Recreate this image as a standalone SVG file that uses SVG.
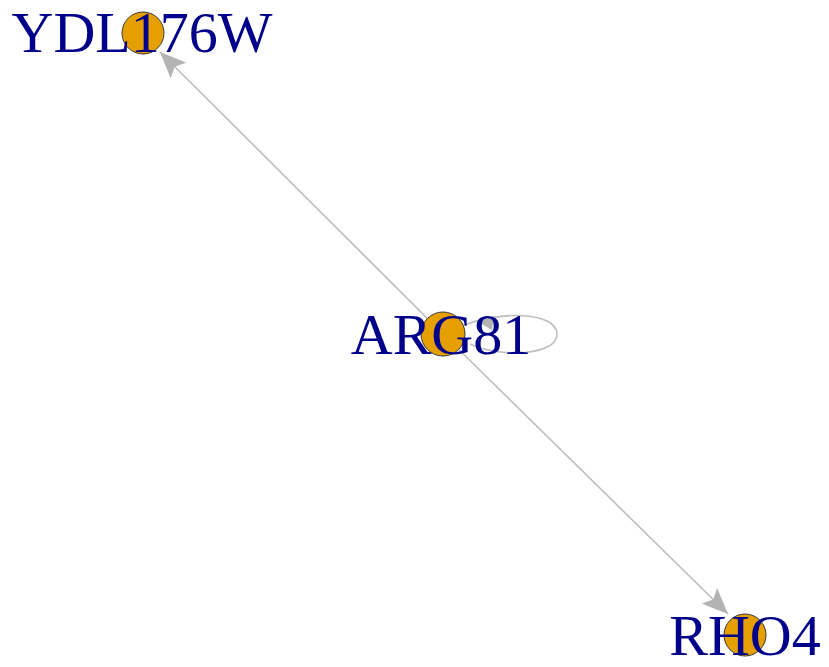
<svg xmlns="http://www.w3.org/2000/svg" width="829" height="667" viewBox="0 0 829 667">
<defs>
<marker id="arrBig" viewBox="0 0 10 10" refX="10" refY="5" markerWidth="26" markerHeight="22" markerUnits="userSpaceOnUse" orient="auto" preserveAspectRatio="none">
<path d="M0,0 L10,5 L0,10 L2,5 Z" fill="#b3b3b3"/>
</marker>
<style>
.edge{stroke:#bdbdbd;stroke-width:1.6;fill:none}
.node circle{fill:#e69f00;stroke:#3a3a3a;stroke-width:1}
.node text{font-family:"Liberation Serif","Times New Roman",serif;font-size:58px;fill:#00008b;text-anchor:middle}
</style>
</defs>
<rect width="829" height="667" fill="#ffffff"/>
<g id="connectors">
<line class="edge" x1="443" y1="334" x2="160" y2="52" marker-end="url(#arrBig)"/>
<line class="edge" x1="443" y1="334" x2="728" y2="614" marker-end="url(#arrBig)"/>
<path class="edge" d="M462,326 C500,310 557,312 557,334 C557,356 500,358 470,344"/>
<path d="M478,322 L494,316 L492,330 Z" fill="#b3b3b3"/>
</g>
<g id="node-YDL176W" class="node">
<circle cx="143" cy="33" r="21"/>
<text x="142" y="52">YDL176W</text>
</g>
<g id="node-ARG81" class="node">
<circle cx="443" cy="334" r="22"/>
<text x="441" y="354">ARG81</text>
</g>
<g id="node-RHO4" class="node">
<circle cx="745" cy="635" r="21"/>
<text x="745" y="655">RHO4</text>
</g>
</svg>
